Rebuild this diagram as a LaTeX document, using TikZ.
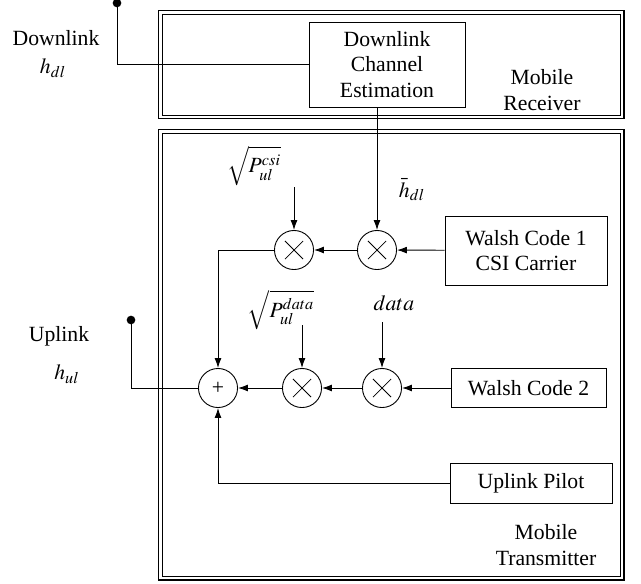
\documentclass[tikz,border=0pt]{standalone}
\usepackage{mathptmx}
\usepackage{fontspec}
\setmainfont{Liberation Serif}
\usetikzlibrary{arrows.meta}
\tikzset{
  lbl/.style={font=\fontsize{12}{14}\selectfont, align=center, inner sep=1pt},
  blk/.style={lbl, draw, rectangle, line width=0.5pt},
  mult/.style={draw, circle, line width=0.5pt, minimum size=21.6pt, inner sep=0pt,
    path picture={\draw[line width=0.4pt] ([shift={(-5pt,-5pt)}]path picture bounding box.center) -- ++(10pt,10pt)
      ([shift={(-5pt,5pt)}]path picture bounding box.center) -- ++(10pt,-10pt);}},
  addr/.style={draw, circle, line width=0.5pt, minimum size=21.6pt, inner sep=0pt, font=\fontsize{12}{12}\selectfont},
  frameout/.style={line width=1.1pt},
  framein/.style={line width=0.5pt}
}
\begin{document}
\begin{tikzpicture}[>={Latex[length=5.5pt,width=3.8pt]}, x=0.553pt, y=-0.553pt, line width=0.5pt]
\useasboundingbox (0,0) rectangle (641,583);
% frames
\draw[frameout] (158.5,10.5) rectangle (623.5,118.5);
\draw[framein] (162,14) rectangle (620,115);
\draw[frameout] (158.5,129.5) rectangle (623.5,579.5);
\draw[framein] (162,133) rectangle (620,576);
% blocks
\node[blk, minimum width=86.3pt, minimum height=47pt] (est) at (387,64.5) {Downlink\\Channel\\Estimation};
\node[blk, minimum width=89.6pt, minimum height=38.2pt] (w1) at (526,250.5) {Walsh Code 1\\CSI Carrier};
\node[blk, minimum width=85.7pt, minimum height=21.6pt] (w2) at (528.5,388) {Walsh Code 2};
\node[blk, minimum width=89.6pt, minimum height=22.1pt] (pilot) at (531,483) {Uplink Pilot};
\node[mult] (m1) at (294,250) {};
\node[mult] (m2) at (377,250) {};
\node[addr] (add) at (218,388) {+};
\node[mult] (m3) at (302,388) {};
\node[mult] (m4) at (382,388) {};
% labels
\node[lbl] (dltxt) at (56,38) {Downlink};
\node[lbl] (hdl) at (53,68) {$h_{dl}$};
\node[lbl] (ultxt) at (59,336) {Uplink};
\node[lbl] (hul) at (67,374) {$h_{ul}$};
\node[lbl] (rx) at (542,90) {Mobile\\Receiver};
\node[lbl] (tx) at (546,545) {Mobile\\Transmitter};
\node[lbl] (csi) at (254,166) {$\sqrt{P_{ul}^{csi}}$};
\node[lbl] (hbar) at (412,190) {$\bar{h}_{dl}$};
\node[lbl] (pdata) at (281,310) {$\sqrt{P_{ul}^{data}}$};
\node[lbl] (data) at (394,303) {$data$};
% terminals
\coordinate (dl) at (117,3);
\coordinate (ul) at (131,320);
\fill (dl) circle (2.4pt);
\fill (ul) circle (2.4pt);
\coordinate (csiin) at (294,187);
\coordinate (pdatain) at (302,325);
\coordinate (datain) at (382,322);
% connectors
\draw (dl) |- (est.west);
\draw[->] (est.south -| m2) -- (m2);
\draw[->] (w1) -- (m2);
\draw[->] (m2) -- (m1);
\draw[->] (csiin) -- (m1);
\draw[->] (m1) -| (add);
\draw[->] (w2) -- (m4);
\draw[->] (m4) -- (m3);
\draw[->] (m3) -- (add);
\draw[->] (pdatain) -- (m3);
\draw[->] (datain) -- (m4);
\draw[->] (pilot) -| (add);
\draw (ul) |- (add);
\end{tikzpicture}
\end{document}
